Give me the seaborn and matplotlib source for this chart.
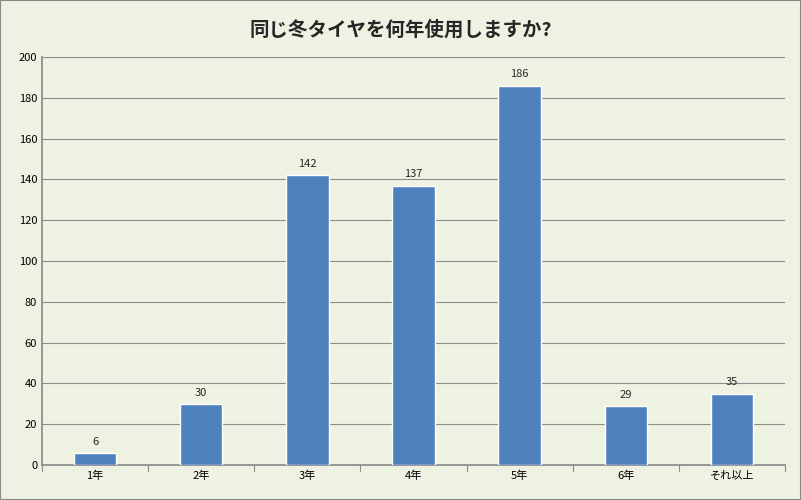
import matplotlib
matplotlib.use("Agg")
import matplotlib.pyplot as plt
import seaborn as sns
import pandas as pd

categories = ["1年", "2年", "3年", "4年", "5年", "6年", "それ以上"]
values = [6, 30, 142, 137, 186, 29, 35]
title = "同じ冬タイヤを何年使用しますか?"

sns.set_theme(style="white")
plt.rcParams['font.family'] = ['Noto Sans CJK JP', 'DejaVu Sans']

bg = "#EEF2E2"
fig = plt.figure(figsize=(8.01, 5.0), dpi=100, facecolor=bg)
ax = fig.add_axes([42/801, 35/500, 743/801, 408/500])
ax.set_facecolor(bg)
df = pd.DataFrame({"cat": categories, "val": values})
sns.barplot(data=df, x="cat", y="val", color="#4F81BD", saturation=1, width=0.4, ax=ax, zorder=3)
ax.set_ylim(0, 200)
ax.set_yticks(range(0, 201, 20))
ax.yaxis.grid(True, color="#8C8C8C", linewidth=0.8, zorder=0)
ax.set_xlabel("")
ax.set_ylabel("")
ax.tick_params(axis="both", labelsize=8, colors="#000000", length=0)
ax.tick_params(axis="x", pad=4)
for s in ["top", "right"]:
    ax.spines[s].set_visible(False)
for s in ["left", "bottom"]:
    ax.spines[s].set_color("#8C8C8C")
# x ticks between categories
for i in range(len(categories) + 1):
    ax.plot([i - 0.5, i - 0.5], [0, -0.015], transform=ax.get_xaxis_transform(),
            color="#8C8C8C", lw=0.8, clip_on=False)
ax.set_xlim(-0.5, len(categories) - 0.5)
for i, v in enumerate(values):
    ax.text(i, v + 3, str(v), ha="center", va="bottom", fontsize=8)
fig.text(0.5, 1 - 30/500, title, ha="center", va="center", fontsize=14, fontweight="bold")
fig.patches.append(plt.Rectangle((0, 0), 1, 1, transform=fig.transFigure, fill=False,
                                 edgecolor="#888888", lw=1.5))
fig.savefig("out.png", dpi=100, facecolor=bg)
